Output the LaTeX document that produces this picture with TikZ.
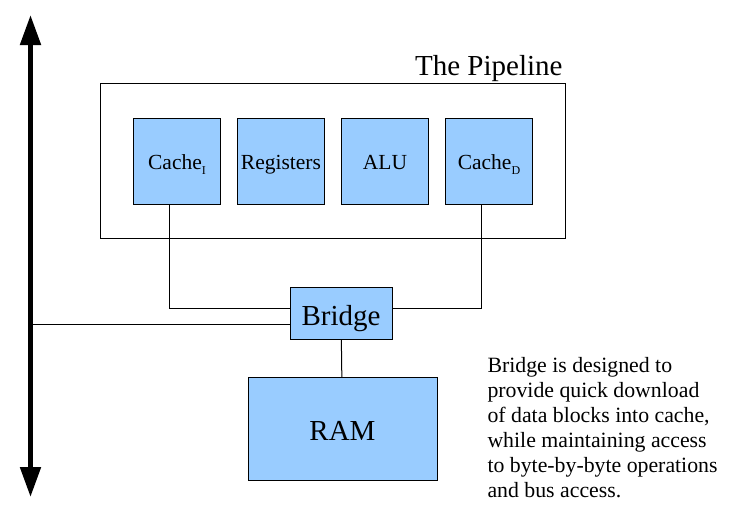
\documentclass[tikz,border=0pt]{standalone}
\usepackage{fontspec}
\setmainfont{Liberation Serif}
\usetikzlibrary{arrows.meta,positioning}
\definecolor{boxblue}{HTML}{99CCFF}
\newcommand{\cachesub}[1]{\raisebox{-5pt}{\fontsize{12}{12}\selectfont #1}}
\tikzstyle{unit} = [rectangle, draw, fill=boxblue, line width=1pt,
    minimum width=87pt, minimum height=86pt, inner sep=0pt, outer sep=0pt,
    text height=17pt, text depth=0pt, font=\fontsize{21.5}{25}\selectfont]
\tikzstyle{bigunit} = [rectangle, draw, fill=boxblue, line width=1pt,
    inner sep=0pt, outer sep=0pt, text height=24pt, text depth=0pt,
    font=\fontsize{29}{34}\selectfont]

\begin{document}
\begin{tikzpicture}[x=1pt,y=-1pt,line width=1pt,
                    bus/.style={line width=5pt,{Triangle[width=20pt,length=30pt]}-{Triangle[width=20pt,length=30pt]}}]
  \useasboundingbox (0,0) rectangle (734,507);

  \node[draw,minimum width=465pt,minimum height=155pt,inner sep=0pt] (pipe) at (332.5,160.5) {};
  \node[anchor=base east,inner sep=0pt,font=\fontsize{29}{34}\selectfont] (pipetitle) at (563,75) {The Pipeline};

  \node[unit]          (cachei) at (177,161)           {Cache\cachesub{I}};
  \node[unit]          (regs)   [right=17pt of cachei] {Registers};
  \node[unit]          (alu)    [right=17pt of regs]   {ALU};
  \node[unit]          (cached) [right=17pt of alu]    {Cache\cachesub{D}};

  \node[bigunit,minimum width=102pt,minimum height=52pt]  (bridge) at (341,313)   {Bridge};
  \node[bigunit,minimum width=189pt,minimum height=103pt] (ram)    at (342.5,428.5) {RAM};

  \node[anchor=north west,inner sep=0pt,align=left,font=\fontsize{21.8}{25}\selectfont] (note) at (487,357)
    {Bridge is designed to\\provide quick download\\of data blocks into cache,\\while maintaining access\\to byte-by-byte operations\\and bus access.};

  \coordinate (bustop) at (30.5,15);
  \coordinate (busbot) at (30.5,497);
  \coordinate (bustap) at (30.5,324);

  \draw[bus] (busbot) -- (bustop);
  \draw ([xshift=-8pt]cachei.south) |- ([yshift=5pt]bridge.west);
  \draw ([xshift=-8pt]cached.south) |- ([yshift=5pt]bridge.east);
  \draw (bustap) -- (bustap -| bridge.west);
  \path (bridge) edge (ram);
\end{tikzpicture}
\end{document}
